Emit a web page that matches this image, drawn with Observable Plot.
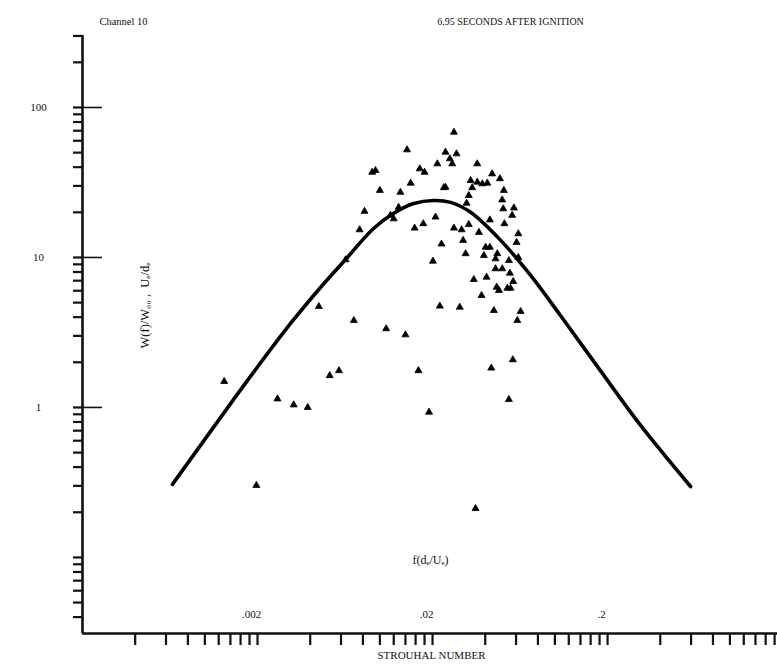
<!DOCTYPE html>
<html>
<head>
<meta charset="utf-8">
<script src="https://cdn.jsdelivr.net/npm/d3@7"></script>
<script src="https://cdn.jsdelivr.net/npm/@observablehq/plot@0.6"></script>
<style>
  html, body { margin: 0; padding: 0; background: #fff; }
  #chart svg { display: block; }
</style>
</head>
<body>
<div id="chart"></div>
<script>
// Measured scatter: Strouhal number vs normalized spectral density
const pointX = [0.0265,0.0143,0.0237,0.0274,0.0251,0.0259,0.0213,0.0360,0.0169,0.0180,
  0.00904,0.00944,0.0438,0.0485,0.0330,0.0360,0.0385,0.0411,0.0150,0.0237,
  0.0232,0.0337,0.0100,0.0131,0.0511,0.0322,0.0500,0.0313,0.0583,0.0507,
  0.0570,0.00817,0.0128,0.0115,0.0120,0.0208,0.0425,0.0515,0.0177,0.0158,
  0.0265,0.0293,0.0322,0.00766,0.0368,0.0618,0.0299,0.0604,0.0225,0.0402,
  0.0425,0.0393,0.0469,0.0458,0.0309,0.0546,0.0618,0.0201,0.00637,0.0458,
  0.0500,0.0553,0.0344,0.0407,0.0578,0.0465,0.0479,0.0535,0.0558,0.0381,
  0.00448,0.0220,0.0286,0.0448,0.0637,0.0610,0.00710,0.01086,0.0140,0.0575,
  0.0166,0.0433,0.00517,0.00584,0.00129,0.00260,0.00322,0.00387,0.0191,0.0546,
  0.00197,0.0352];
const pointY = [68.4,52.2,50.4,49.1,45.5,42.1,42.1,42.1,39.0,37.0,
  37.0,38.0,36.1,33.5,32.6,31.8,31.0,31.3,31.3,29.4,
  29.2,29.2,28.0,27.2,28.0,25.9,24.2,23.0,21.4,21.1,
  19.1,20.3,21.6,19.1,18.1,18.6,17.8,16.8,16.8,15.7,
  15.7,15.3,16.6,15.3,14.7,14.4,13.0,12.6,12.3,11.7,
  11.7,10.3,10.6,9.80,10.6,9.55,10.0,9.45,9.65,8.41,
  8.41,7.86,7.13,7.39,6.92,6.34,6.03,6.24,6.24,5.58,
  4.71,4.74,4.66,4.43,4.36,3.80,3.80,3.35,3.05,2.08,
  1.76,1.83,1.63,1.76,1.49,1.14,1.04,1.00,0.93,1.13,
  0.302,0.212];

// Fitted curve
const curveX = [0.000653,0.00112,0.00175,0.00309,0.00458,0.00637,0.00920,0.0120,0.0156,0.0203,
  0.0254,0.0330,0.0490,0.0727,0.1076,0.182,0.309,0.596];
const curveY = [0.307,0.736,1.51,3.63,6.31,9.70,15.6,19.7,22.9,24.0,
  23.3,20.0,13.0,7.59,4.10,1.76,0.759,0.297];

// Axis tick values and labels
const xDomain = [0.0002, 1.87];
const yDomain = [0.0311, 302];
const xTickBases = [0.0002, 0.002, 0.02, 0.2];
const xTickMultiples = [2,3,4,5,6,7,8,9,10];
const xLabelValues = [0.002, 0.02, 0.2];
const xLabelTexts = [".002", ".02", ".2"];
const yTickBases = [0.01, 0.1, 1, 10, 100];
const yTickMultiples = [1,2,3,4,5,6,7,8,9];
const yLabelValues = [100, 10, 1];
const yLabelTexts = ["100", "10", "1"];

const points = pointX.map((x, i) => ({x, y: pointY[i]}));
const curve = curveX.map((x, i) => ({x, y: curveY[i]}));
const xMinor = xTickBases.flatMap(b => xTickMultiples.map(k => +(b * k).toPrecision(6)))
  .filter(v => v >= xDomain[0] && v <= xDomain[1]);
const yMinor = yTickBases.flatMap(b => yTickMultiples.map(k => +(b * k).toPrecision(6)))
  .filter(v => v >= yDomain[0] && v <= yDomain[1]);
const xLabels = xLabelValues.map((v, i) => ({v, t: xLabelTexts[i]}));
const yLabels = yLabelValues.map((v, i) => ({v, t: yLabelTexts[i]}));

const serif = "'Liberation Serif', 'DejaVu Serif', serif";

const chart = Plot.plot({
  width: 777,
  height: 668,
  marginLeft: 82,
  marginRight: 0,
  marginTop: 35,
  marginBottom: 35,
  style: {fontFamily: serif, background: "#fff", color: "#111"},
  x: {type: "log", domain: xDomain, axis: null},
  y: {type: "log", domain: yDomain, axis: null},
  marks: [
    // ticks
    Plot.axisY({anchor: "left", ticks: yMinor, tickSize: 9, tickFormat: () => "", strokeWidth: 2.2}),
    Plot.axisY({anchor: "left", ticks: yLabelValues, tickSize: -20, tickFormat: () => "", strokeWidth: 1.6}),
    Plot.axisX({anchor: "bottom", ticks: xMinor, tickSize: 12, tickFormat: () => "", strokeWidth: 2.2}),
    // axis lines
    Plot.ruleX([xDomain[0]], {stroke: "#111", strokeWidth: 2.6}),
    Plot.ruleY([yDomain[0]], {stroke: "#111", strokeWidth: 2.6}),
    // tick labels
    Plot.text(yLabels, {y: "v", text: "t", frameAnchor: "left", dx: -44, textAnchor: "middle", fontSize: 11, fill: "#111"}),
    Plot.text(xLabels, {x: "v", text: "t", frameAnchor: "bottom", dy: -16, dx: -6, textAnchor: "middle", fontSize: 11, fill: "#111"}),
    // curve and points
    Plot.line(curve, {x: "x", y: "y", curve: "catmull-rom", stroke: "#000", strokeWidth: 3.6}),
    Plot.dot(points, {x: "x", y: "y", symbol: "triangle", r: 2.6, fill: "#000", stroke: "#000", strokeWidth: 0.8}),
    // titles
    Plot.text(["Channel 10"], {frameAnchor: "top-left", dx: 41, dy: -18, textAnchor: "middle", fontSize: 10.5, fill: "#111"}),
    Plot.text(["6.95 SECONDS AFTER IGNITION"], {frameAnchor: "top-left", dx: 428, dy: -18, textAnchor: "middle", fontSize: 10, fill: "#111"}),
    Plot.text(["STROUHAL NUMBER"], {frameAnchor: "bottom-left", dx: 349, dy: 25, textAnchor: "middle", fontSize: 11, fill: "#111", style: "letter-spacing: 0.5px"}),
    Plot.text(["f(dₑ/Uₑ)"], {frameAnchor: "bottom-left", dx: 348, dy: -70, textAnchor: "middle", fontSize: 12, fill: "#111"}),
    Plot.text(["W(f)/W₀₀ ,  Uₑ/dₑ"], {frameAnchor: "top-left", dx: 58, dy: 270, rotate: -90, textAnchor: "middle", fontSize: 12.5, fill: "#111"})
  ]
});
document.getElementById("chart").appendChild(chart);
</script>
</body>
</html>
